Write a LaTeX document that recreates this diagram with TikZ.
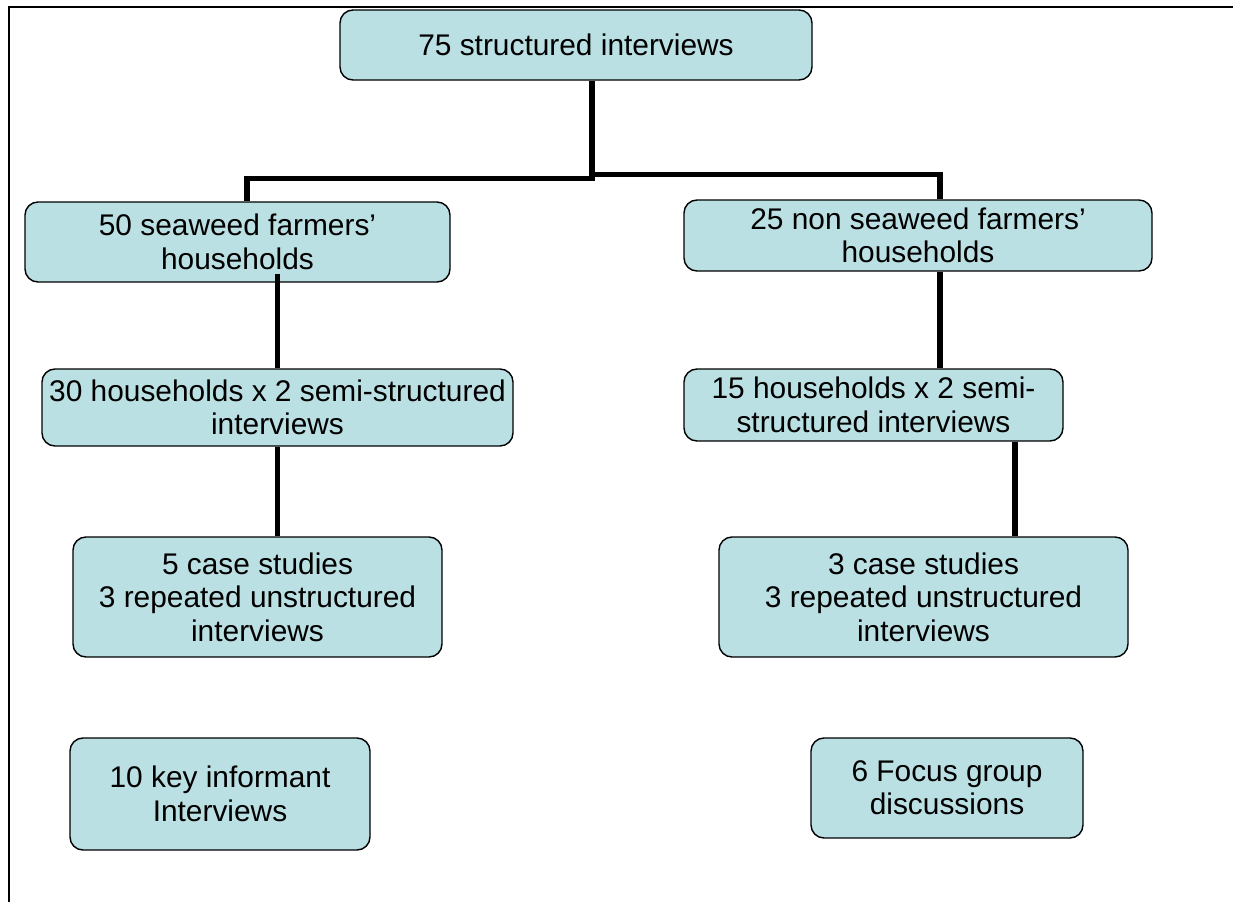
\documentclass[tikz,border=0pt]{standalone}
\usepackage{fontspec}
\setmainfont{Liberation Sans}
\usepackage{tikz}
\usetikzlibrary{shapes.geometric, arrows}
\definecolor{cell}{RGB}{187,224,227}
\tikzstyle{box} = [rectangle, rounded corners=0.26cm, align=center, inner sep=0pt, draw=black, line width=0.8pt, fill=cell, font=\fontsize{17}{19}\selectfont]
\tikzstyle{link} = [line width=3pt, draw=black]
\tikzstyle{frame} = [line width=0.8pt, draw=black]

\begin{document}
\begin{tikzpicture}[node distance=2cm]
		\useasboundingbox (0,0) rectangle (24.68,-18.04);
		\draw [frame] (0.18,-18.04) -- (0.18,-0.14) -- (24.66,-0.14);
		
		% Nodes
		\node (total) [box, minimum width=9.44cm, minimum height=1.4cm] at (11.52,-0.9) {75 structured interviews};
		\node (seaweed) [box, minimum width=8.5cm, minimum height=1.6cm, below of=total, xshift=-6.77cm, yshift=-1.94cm] {50 seaweed farmers'\\households};
		\node (nonseaweed) [box, minimum width=9.36cm, minimum height=1.42cm, below of=total, xshift=6.84cm, yshift=-1.81cm] {25 non seaweed farmers'\\households};
		\node (semiS) [box, minimum width=9.42cm, minimum height=1.54cm, below of=seaweed, xshift=0.8cm, yshift=-1.31cm] {30 households x 2 semi-structured\\interviews};
		\node (semiN) [box, minimum width=7.58cm, minimum height=1.44cm, below of=nonseaweed, xshift=-0.89cm, yshift=-1.39cm] {15 households x 2 semi-\\structured interviews};
		\node (caseS) [box, minimum width=7.38cm, minimum height=2.4cm, below of=semiS, xshift=-0.4cm, yshift=-1.79cm] {5 case studies\\3 repeated unstructured\\interviews};
		\node (caseN) [box, minimum width=8.18cm, minimum height=2.4cm, below of=semiN, xshift=1.0cm, yshift=-1.84cm] {3 case studies\\3 repeated unstructured\\interviews};
		\node (informant) [box, minimum width=6.0cm, minimum height=2.24cm, below of=caseS, xshift=-0.75cm, yshift=-1.94cm] {10 key informant\\Interviews};
		\node (focus) [box, minimum width=5.44cm, minimum height=2.0cm, below of=caseN, xshift=0.47cm, yshift=-1.82cm] {6 Focus group\\discussions};
		
		% Lines
		\coordinate (jL) at (11.84,-3.57);
		\coordinate (jR) at (11.84,-3.49);
		\draw [link] (total.south -| jL) -- (jL) -| ([xshift=0.19cm]seaweed.north);
		\draw [link] (jR) -| ([xshift=0.44cm]nonseaweed.north);
		\draw [link] ([yshift=0.18cm]semiS.north |- seaweed.south) -- (semiS.north);
		\draw [link] (semiS.south) -- (semiS.south |- caseS.north);
		\draw [link] ([xshift=0.44cm]nonseaweed.south) -- ([xshift=0.44cm]nonseaweed.south |- semiN.north);
		\draw [link] ([xshift=2.83cm]semiN.south) -- ([xshift=2.83cm]semiN.south |- caseN.north);
		
	\end{tikzpicture}
\end{document}
